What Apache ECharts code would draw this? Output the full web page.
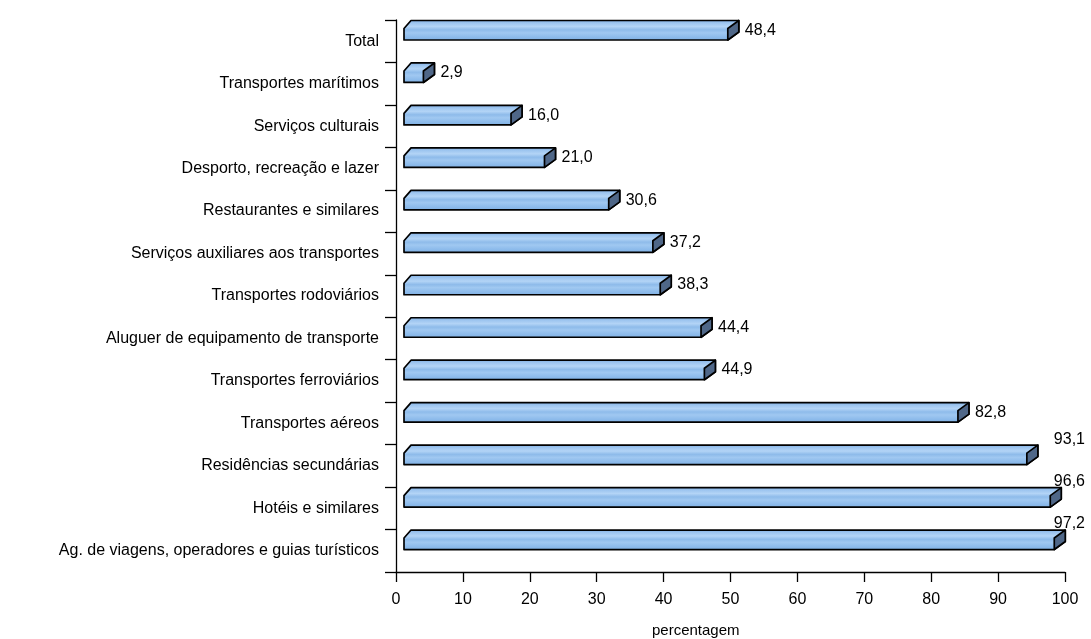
<!DOCTYPE html>
<html>
<head>
<meta charset="utf-8">
<script src="https://cdn.jsdelivr.net/npm/echarts@6/dist/echarts.min.js"></script>
<style>
  html, body { margin: 0; padding: 0; background: #fff; }
  #chart { width: 1091px; height: 639px; }
</style>
</head>
<body>
<div id="chart"></div>
<script>
// Categories, top to bottom
const categories = [
  'Total',
  'Transportes marítimos',
  'Serviços culturais',
  'Desporto, recreação e lazer',
  'Restaurantes e similares',
  'Serviços auxiliares aos transportes',
  'Transportes rodoviários',
  'Aluguer de equipamento de transporte',
  'Transportes ferroviários',
  'Transportes aéreos',
  'Residências secundárias',
  'Hotéis e similares',
  'Ag. de viagens, operadores e guias turísticos'
];
// Percentage per category
const values = [48.4, 2.9, 16.0, 21.0, 30.6, 37.2, 38.3, 44.4, 44.9, 82.8, 93.1, 96.6, 97.2];
const xTicks = { min: 0, max: 100, interval: 10 };
const axisTitle = 'percentagem';

const FONT = '"Liberation Sans", Arial, sans-serif';
const chart = echarts.init(document.getElementById('chart'), null, { renderer: 'canvas' });

const frontFill = new echarts.graphic.LinearGradient(0, 0, 0, 1, [
  { offset: 0.00, color: '#7aaae0' },
  { offset: 0.15, color: '#9cc4ef' },
  { offset: 0.32, color: '#b3d4f6' },
  { offset: 0.48, color: '#8ebbea' },
  { offset: 0.62, color: '#a0c8f1' },
  { offset: 0.82, color: '#8dbbeb' },
  { offset: 1.00, color: '#7fb0e3' }
]);

function fmt(v) { return v.toFixed(1).replace('.', ','); }

// 3D-looking bar: front/top face, dark end cap and a value label
function renderBar(params, api) {
  const v = api.value(0);
  const idx = api.value(1);
  const p0 = api.coord([0, idx]);
  const p1 = api.coord([v, idx]);
  const band = api.size([0, 1])[1];
  const T = p0[1] - band / 2 + 0.5;
  const H = 19.5, dx = 11, dy = 8, off = 8, lx = 7;
  const B = T + H;
  const X0 = p0[0] + off, X1 = p1[0] + off;
  const children = [
    {
      type: 'polygon',
      shape: { points: [[X0, B], [X0, T + dy], [X0 + lx, T], [X1 + dx, T], [X1 + dx, B - dy], [X1, B]] },
      style: { fill: frontFill, stroke: '#000', lineWidth: 1.7, lineJoin: 'round' }
    },
    {
      type: 'polygon',
      shape: { points: [[X1, B], [X1, T + dy], [X1 + dx, T], [X1 + dx, B - dy]] },
      style: { fill: '#4f6788', stroke: '#000', lineWidth: 1.7, lineJoin: 'round' }
    }
  ];
  // labels that would run past the right edge sit above the bar instead
  const chartW = api.getWidth();
  const lblX = X1 + dx + 6;
  const overflow = lblX + 50 > chartW - 4;
  children.push({
    type: 'text',
    style: {
      text: fmt(v),
      x: overflow ? chartW - 6 : lblX,
      y: overflow ? T - 6 : (T + B) / 2,
      align: overflow ? 'right' : 'left',
      verticalAlign: 'middle',
      fill: '#000',
      font: '16px ' + FONT
    }
  });
  return { type: 'group', children };
}

chart.setOption({
  animation: false,
  backgroundColor: '#fff',
  grid: { left: 396, right: 26, top: 20, bottom: 67, containLabel: false },
  xAxis: {
    type: 'value',
    min: xTicks.min, max: xTicks.max, interval: xTicks.interval,
    axisLine: { show: true, lineStyle: { color: '#000', width: 1.3 } },
    axisTick: { show: true, length: 10, lineStyle: { color: '#000', width: 1.3 } },
    splitLine: { show: false },
    axisLabel: { color: '#000', fontSize: 16, fontFamily: FONT, margin: 20 }
  },
  yAxis: {
    type: 'category',
    data: categories,
    inverse: true,
    axisLine: { show: true, lineStyle: { color: '#000', width: 1.3 } },
    axisTick: { show: true, length: 11, lineStyle: { color: '#000', width: 1.3 } },
    axisLabel: { color: '#000', fontSize: 16, fontFamily: FONT, margin: 17 }
  },
  graphic: [{
    type: 'text',
    left: 652, top: 623,
    style: { text: axisTitle, fill: '#000', font: '15px ' + FONT }
  }],
  series: [{
    type: 'custom',
    clip: false,
    renderItem: renderBar,
    encode: { x: 0, y: 1 },
    data: values.map((v, i) => [v, i])
  }]
});
</script>
</body>
</html>
